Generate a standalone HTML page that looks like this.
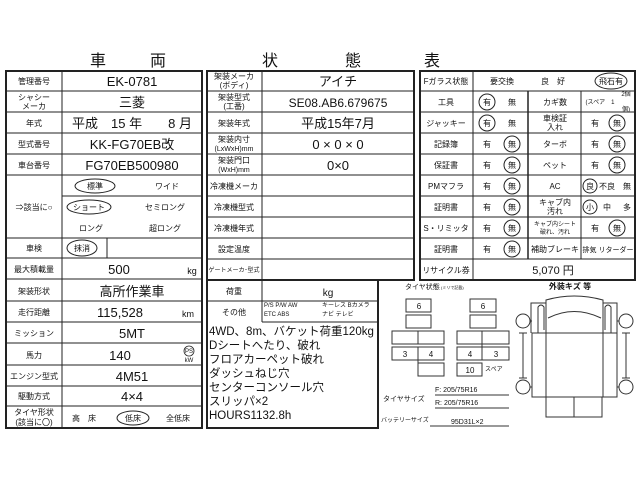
<!DOCTYPE html>
<html><head><meta charset="utf-8"><style>
html,body{margin:0;padding:0;background:#fff;width:640px;height:480px;overflow:hidden}
svg{display:block}
text{font-family:"Liberation Sans","Noto Sans CJK JP",sans-serif;fill:#111}
.l{font-size:8px}
.v{font-size:13px}
.s{font-size:6px}
</style></head><body>
<svg width="640" height="480" viewBox="0 0 640 480" xmlns="http://www.w3.org/2000/svg">
<g text-anchor="middle">
<text x="98" y="66" style="font-size:16px">車</text><text x="158" y="66" style="font-size:16px">両</text><text x="270" y="66" style="font-size:16px">状</text><text x="353" y="66" style="font-size:16px">態</text><text x="432" y="66" style="font-size:16px">表</text>
</g>

<!-- LEFT TABLE -->
<g fill="none" stroke="#222">
<rect x="6" y="71" width="196" height="357" stroke-width="2"/>
<line x1="62" y1="71" x2="62" y2="428"/>
<path d="M6 91H202M6 112H202M6 133H202M6 154H202M6 175H202M62 196H202M6 238H202M6 258H202M6 279H202M6 301H202M6 322H202M6 343H202M6 365H202M6 386H202M6 406H202"/>
<line x1="107" y1="238" x2="107" y2="258"/>
<ellipse cx="95" cy="186" rx="20" ry="7"/>
<ellipse cx="89" cy="207" rx="22" ry="7"/>
<ellipse cx="82" cy="248" rx="15" ry="8"/>
<ellipse cx="133" cy="418" rx="16" ry="7"/>
</g>
<g text-anchor="middle">
<text class="l" x="34" y="84">管理番号</text>
<text class="l" x="34" y="100">シャシー</text><text class="l" x="34" y="109">メーカ</text>
<text class="l" x="34" y="126">年式</text>
<text class="l" x="34" y="147">型式番号</text>
<text class="l" x="34" y="168">車台番号</text>
<text class="l" x="34" y="210">⇒該当に○</text>
<text class="l" x="34" y="251">車検</text>
<text class="l" x="34" y="272">最大積載量</text>
<text class="l" x="34" y="294">架装形状</text>
<text class="l" x="34" y="315">走行距離</text>
<text class="l" x="34" y="336">ミッション</text>
<text class="l" x="34" y="358">馬力</text>
<text class="l" x="34" y="379">エンジン型式</text>
<text class="l" x="34" y="399">駆動方式</text>
<text class="l" x="34" y="415">タイヤ形状</text><text class="l" x="34" y="425">(該当に〇)</text>
<text class="v" x="132" y="86">EK-0781</text>
<text class="v" x="132" y="107">三菱</text>
<text class="v" x="132" y="128">平成　15 年　　8 月</text>
<text class="v" x="132" y="149">KK-FG70EB改</text>
<text class="v" x="132" y="170">FG70EB500980</text>
<text class="l" x="95" y="189">標準</text><text class="l" x="167" y="189">ワイド</text>
<text class="l" x="89" y="210">ショート</text><text class="l" x="165" y="210">セミロング</text>
<text class="l" x="91" y="231">ロング</text><text class="l" x="165" y="231">超ロング</text>
<text class="l" x="82" y="251">抹消</text>
<text class="v" x="119" y="274">500</text><text class="l" x="192" y="274" style="font-size:9px">kg</text>
<text class="v" x="132" y="296">高所作業車</text>
<text class="v" x="120" y="317">115,528</text><text class="l" x="188" y="317" style="font-size:9px">km</text>
<text class="v" x="132" y="338">5MT</text>
<text class="v" x="120" y="360">140</text>
<text class="s" x="189" y="353">PS</text><text class="s" x="189" y="362">kW</text>
<text class="v" x="132" y="381">4M51</text>
<text class="v" x="132" y="401">4×4</text>
<text class="l" x="84" y="421">高　床</text><text class="l" x="133" y="421">低床</text><text class="l" x="178" y="421">全低床</text>
</g>
<circle cx="189" cy="351" r="5" fill="none" stroke="#222" stroke-width="0.8"/>

<!-- MIDDLE TABLE -->
<g fill="none" stroke="#222">
<rect x="207" y="71" width="207" height="209" stroke-width="2"/>
<line x1="262" y1="71" x2="262" y2="280"/>
<path d="M207 91H414M207 112H414M207 133H414M207 154H414M207 175H414M207 196H414M207 217H414M207 238H414M207 259H414"/>
<rect x="207" y="280" width="171" height="148" stroke-width="2"/>
<path d="M378 280H414" stroke-width="2"/>
<path d="M262 280V322M207 301H378M262 322H378"/>
</g>
<g text-anchor="middle">
<text class="l" x="234" y="79">架装メーカ</text><text class="l" x="234" y="88">(ボディ)</text>
<text class="l" x="234" y="100">架装型式</text><text class="l" x="234" y="109">(工番)</text>
<text class="l" x="234" y="126">架装年式</text>
<text class="l" x="234" y="142">架装内寸</text><text class="l" x="234" y="151" style="font-size:7px">(LxWxH)mm</text>
<text class="l" x="234" y="163">架装門口</text><text class="l" x="234" y="172" style="font-size:7px">(WxH)mm</text>
<text class="l" x="234" y="189">冷凍機メーカ</text>
<text class="l" x="234" y="210">冷凍機型式</text>
<text class="l" x="234" y="231">冷凍機年式</text>
<text class="l" x="234" y="252">設定温度</text>
<text class="l" x="234" y="272" style="font-size:6px">ゲートメーカ･型式</text>
<text class="l" x="234" y="294">荷重</text>
<text class="l" x="234" y="315">その他</text>
<text class="v" x="338" y="86">アイチ</text>
<text class="v" x="338" y="107" style="font-size:12px">SE08.AB6.679675</text>
<text class="v" x="338" y="128">平成15年7月</text>
<text class="v" x="338" y="149">0 × 0 × 0</text>
<text class="v" x="338" y="170">0×0</text>
<text class="l" x="328" y="296" style="font-size:10px">kg</text>
</g>
<text class="s" x="264" y="307">P/S  P/W  AW</text><text class="s" x="322" y="307">キーレス  Bカメラ</text>
<text class="s" x="264" y="316">ETC  ABS</text><text class="s" x="322" y="316">ナビ  テレビ</text>
<g>
<text x="209" y="335" style="font-size:11.5px">4WD、8m、バケット荷重120kg</text>
<text x="209" y="349" style="font-size:11.5px">Dシートへたり、破れ</text>
<text x="209" y="363" style="font-size:11.5px">フロアカーペット破れ</text>
<text x="209" y="377" style="font-size:11.5px">ダッシュねじ穴</text>
<text x="209" y="391" style="font-size:11.5px">センターコンソール穴</text>
<text x="209" y="405" style="font-size:11.5px">スリッパ×2</text>
<text x="209" y="419" style="font-size:11.5px">HOURS1132.8h</text>
</g>

<!-- RIGHT TABLE -->
<g fill="none" stroke="#222">
<rect x="420" y="71" width="215" height="209" stroke-width="2"/>
<line x1="473" y1="71" x2="473" y2="280"/>
<line x1="528" y1="91" x2="528" y2="259" stroke-width="1.5"/>
<line x1="581" y1="91" x2="581" y2="259"/>
<path d="M420 91H635M420 112H635M420 133H635M420 154H635M420 175H635M420 196H635M420 217H635M420 238H635M420 259H635"/>
<ellipse cx="611" cy="81" rx="16" ry="8"/>
<circle cx="487" cy="102" r="8"/><circle cx="487" cy="123" r="8"/>
<circle cx="512" cy="144" r="8"/><circle cx="512" cy="165" r="8"/><circle cx="512" cy="186" r="8"/><circle cx="512" cy="207" r="8"/><circle cx="512" cy="228" r="8"/><circle cx="512" cy="249" r="8"/>
<circle cx="617" cy="123" r="8"/><circle cx="617" cy="144" r="8"/><circle cx="617" cy="165" r="8"/><circle cx="590" cy="186" r="7"/><circle cx="590" cy="207" r="7"/><circle cx="617" cy="228" r="8"/>
</g>
<g text-anchor="middle">
<text class="l" x="446" y="84">Fガラス状態</text>
<text class="l" x="502" y="84">要交換</text><text class="l" x="553" y="84">良　好</text><text class="l" x="611" y="84">飛石有</text>
<text class="l" x="446" y="105">工具</text>
<text class="l" x="446" y="126">ジャッキー</text>
<text class="l" x="446" y="147">記録簿</text>
<text class="l" x="446" y="168">保証書</text>
<text class="l" x="446" y="189">PMマフラ</text>
<text class="l" x="446" y="210">証明書</text>
<text class="l" x="446" y="231">S・リミッタ</text>
<text class="l" x="446" y="252">証明書</text>
<text class="l" x="446" y="273">リサイクル券</text>
<text class="l" x="487" y="105">有</text><text class="l" x="512" y="105">無</text>
<text class="l" x="487" y="126">有</text><text class="l" x="512" y="126">無</text>
<text class="l" x="487" y="147">有</text><text class="l" x="512" y="147">無</text>
<text class="l" x="487" y="168">有</text><text class="l" x="512" y="168">無</text>
<text class="l" x="487" y="189">有</text><text class="l" x="512" y="189">無</text>
<text class="l" x="487" y="210">有</text><text class="l" x="512" y="210">無</text>
<text class="l" x="487" y="231">有</text><text class="l" x="512" y="231">無</text>
<text class="l" x="487" y="252">有</text><text class="l" x="512" y="252">無</text>
<text class="l" x="555" y="105">カギ数</text>
<text class="l" x="555" y="121">車検証</text><text class="l" x="555" y="130">入れ</text>
<text class="l" x="555" y="147">ターボ</text>
<text class="l" x="555" y="168">ペット</text>
<text class="l" x="555" y="189">AC</text>
<text class="l" x="555" y="205">キャブ内</text><text class="l" x="555" y="214">汚れ</text>
<text class="s" x="555" y="226">キャブ内シート</text><text class="s" x="555" y="234">破れ、汚れ</text>
<text class="l" x="555" y="252">補助ブレーキ</text>
<text class="s" x="626" y="96">2個</text><text class="s" x="600" y="104">(スペア　1</text><text class="s" x="626" y="111">個)</text>
<text class="l" x="595" y="126">有</text><text class="l" x="617" y="126">無</text>
<text class="l" x="595" y="147">有</text><text class="l" x="617" y="147">無</text>
<text class="l" x="595" y="168">有</text><text class="l" x="617" y="168">無</text>
<text class="l" x="590" y="189">良</text><text class="l" x="607" y="189">不良</text><text class="l" x="627" y="189">無</text>
<text class="l" x="590" y="210">小</text><text class="l" x="607" y="210">中</text><text class="l" x="627" y="210">多</text>
<text class="l" x="595" y="231">有</text><text class="l" x="617" y="231">無</text>
<text class="s" x="608" y="252" style="font-size:7px">排気 リターダー</text>
<text class="v" x="553" y="274" style="font-size:11px">5,070 円</text>
</g>

<!-- TIRES -->
<g fill="none" stroke="#333">
<rect x="406" y="299" width="25" height="13"/><rect x="406" y="315" width="25" height="13"/>
<rect x="392" y="331" width="52" height="13"/><line x1="418" y1="331" x2="418" y2="344"/>
<rect x="392" y="347" width="52" height="13"/><line x1="418" y1="347" x2="418" y2="376"/>
<rect x="418" y="363" width="26" height="13"/>
<rect x="470" y="299" width="26" height="13"/><rect x="470" y="315" width="26" height="13"/>
<rect x="457" y="331" width="52" height="13"/><line x1="482" y1="331" x2="482" y2="360"/>
<rect x="457" y="347" width="52" height="13"/>
<rect x="457" y="363" width="25" height="13"/>
<path d="M435 395H509M435 408H509M430 426H509"/>
</g>
<g text-anchor="middle">
<text class="l" x="419" y="309">6</text><text class="l" x="483" y="309">6</text>
<text class="l" x="405" y="357">3</text><text class="l" x="431" y="357">4</text>
<text class="l" x="470" y="357">4</text><text class="l" x="496" y="357">3</text>
<text class="l" x="470" y="373">10</text>
</g>
<text class="s" x="485" y="371">スペア</text>
<text class="l" x="405" y="289" style="font-size:7px">タイヤ状態</text><text class="s" x="441" y="289" style="font-size:4px">(ミリで記載)</text>
<text class="l" x="435" y="392" style="font-size:7px">F: 205/75R16</text>
<text class="l" x="435" y="405" style="font-size:7px">R: 205/75R16</text>
<text class="l" x="383" y="401" style="font-size:7px">タイヤサイズ</text>
<text class="l" x="381" y="422" style="font-size:6px">バッテリーサイズ</text>
<text class="l" x="451" y="424" style="font-size:7px">95D31L×2</text>

<!-- CAR -->
<text x="570" y="289" text-anchor="middle" style="font-size:8px;font-weight:bold">外装キズ 等</text>
<g fill="none" stroke="#333">
<rect x="532" y="333" width="85" height="64"/>
<path d="M546 333V397M603 333V397"/>
<path d="M531 333V303H546V300Q574 292 603 300V303H617V333"/>
<path d="M546 303V333M603 303V333M548 318Q574 305 601 318"/>
<path d="M538 333V307Q541 303 544 307V330M611 333V307Q608 303 605 307V330"/>
<rect x="546" y="397" width="56" height="20"/><line x1="574" y1="397" x2="574" y2="417"/>
<circle cx="523" cy="321" r="7"/><circle cx="626" cy="321" r="7"/>
<circle cx="523" cy="387" r="7"/><circle cx="626" cy="387" r="7"/>
<path d="M523 333V378M626 333V378M519 333H527M519 378H527M622 333H630M622 378H630"/>
<path d="M530 321H532M617 321H619M530 387H532M617 387H619"/>
</g>
</svg>
</body></html>
